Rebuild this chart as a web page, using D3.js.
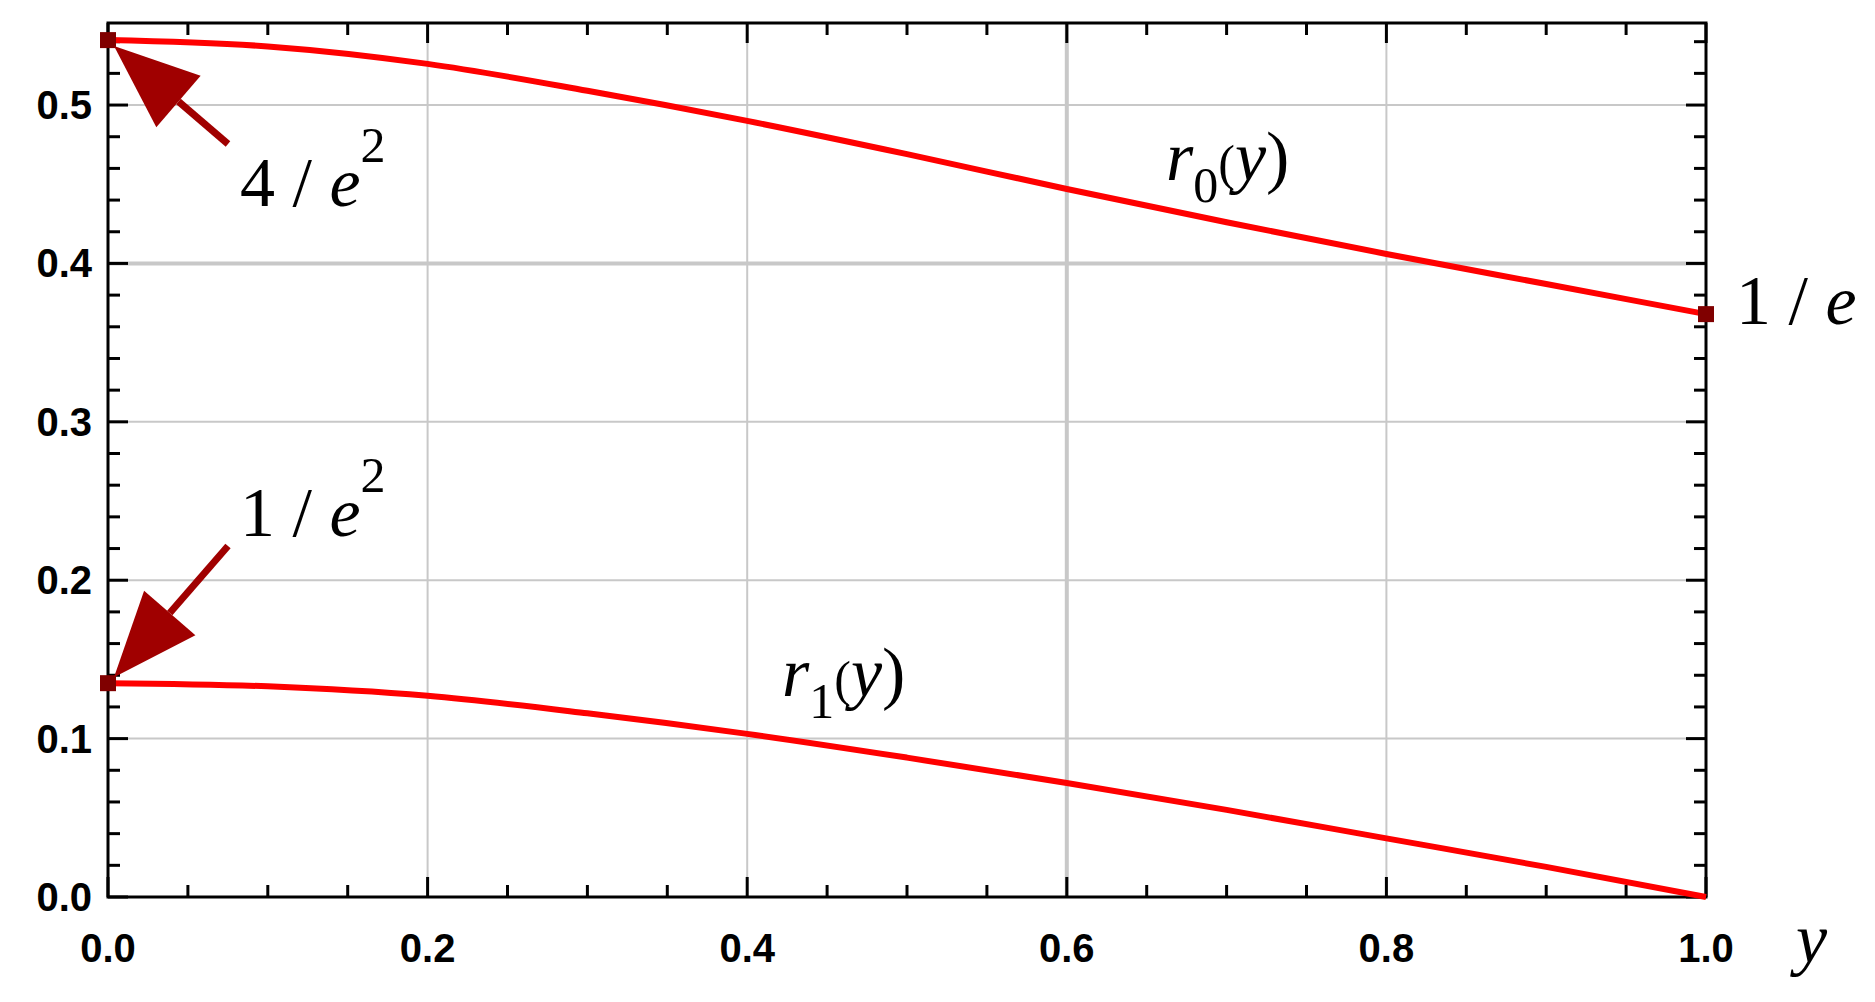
<!DOCTYPE html>
<html><head><meta charset="utf-8">
<script src="https://cdn.jsdelivr.net/npm/d3@7"></script>
<style>body{margin:0;background:#fff}</style></head>
<body><svg id="c" width="1875" height="1002"></svg>
<script>
const yVals = [0,0.1,0.2,0.3,0.4,0.5,0.6,0.7,0.8,0.9,1.0];
const r0 = [0.541,0.537,0.526,0.509,0.490,0.469,0.447,0.426,0.406,0.387,0.368];
const r1 = [0.135,0.133,0.127,0.116,0.103,0.088,0.072,0.055,0.037,0.019,0.0];
const xTicks = [0,0.2,0.4,0.6,0.8,1.0];
const yTicks = [0,0.1,0.2,0.3,0.4,0.5];

const svg = d3.select("#c");
const L=108,R=1706,T=23,B=897;
const x = d3.scaleLinear().domain([0,1]).range([L,R]);
const y = d3.scaleLinear().domain([0,0.5518]).range([B,T]);

svg.append("g").selectAll("line").data(xTicks.slice(1,-1)).join("line")
  .attr("x1",d=>x(d)).attr("x2",d=>x(d)).attr("y1",T).attr("y2",B)
  .attr("stroke","#c8c8c8").attr("stroke-width",d=>d===0.6?4:2);
svg.append("g").selectAll("line").data(yTicks.slice(1)).join("line")
  .attr("y1",d=>y(d)).attr("y2",d=>y(d)).attr("x1",L).attr("x2",R)
  .attr("stroke","#c8c8c8").attr("stroke-width",d=>d===0.4?4:2);

const xt = d3.range(0,1.0001,0.05), yt = d3.range(0,0.5501,0.02);
const isMajX = d=>Math.abs(d*5-Math.round(d*5))<1e-6;
const isMajY = d=>Math.abs(d*10-Math.round(d*10))<1e-6;
const tk = svg.append("g").attr("stroke","#000").attr("stroke-width",3);
xt.forEach(d=>{const l=isMajX(d)?20:12;
  tk.append("line").attr("x1",x(d)).attr("x2",x(d)).attr("y1",B).attr("y2",B-l);
  tk.append("line").attr("x1",x(d)).attr("x2",x(d)).attr("y1",T).attr("y2",T+l);});
yt.forEach(d=>{const l=isMajY(d)?20:12;
  tk.append("line").attr("y1",y(d)).attr("y2",y(d)).attr("x1",L).attr("x2",L+l);
  tk.append("line").attr("y1",y(d)).attr("y2",y(d)).attr("x1",R).attr("x2",R-l);});
svg.append("rect").attr("x",L).attr("y",T).attr("width",R-L).attr("height",B-T)
  .attr("fill","none").attr("stroke","#000").attr("stroke-width",3);

const lab = {"font-family":"Liberation Sans, Arial, sans-serif","font-weight":"bold","font-size":"40px"};
svg.append("g").selectAll("text").data(xTicks).join("text")
  .attr("x",d=>x(d)).attr("y",962).attr("text-anchor","middle").text(d=>d.toFixed(1))
  .each(function(){for(const k in lab) d3.select(this).attr(k,lab[k]);});
svg.append("g").selectAll("text").data(yTicks).join("text")
  .attr("x",92).attr("y",d=>y(d)+14).attr("text-anchor","end").text(d=>d.toFixed(1))
  .each(function(){for(const k in lab) d3.select(this).attr(k,lab[k]);});

const line = d3.line().x((d,i)=>x(yVals[i])).y(d=>y(d)).curve(d3.curveMonotoneX);
[r0,r1].forEach(s=>svg.append("path").attr("d",line(s)).attr("fill","none")
  .attr("stroke","#ff0000").attr("stroke-width",6));

[[0,r0[0]],[1,r0[10]],[0,r1[0]]].forEach(p=>svg.append("rect")
  .attr("x",x(p[0])-8).attr("y",y(p[1])-8).attr("width",16).attr("height",16).attr("fill","#800000"));

function arrow(x1,y1,x2,y2){
  const dx=x2-x1,dy=y2-y1,len=Math.hypot(dx,dy),ux=dx/len,uy=dy/len;
  const hl=85,hw=34,bx=x2-ux*hl,by=y2-uy*hl;
  svg.append("line").attr("x1",x1).attr("y1",y1).attr("x2",bx).attr("y2",by)
    .attr("stroke","#a00000").attr("stroke-width",7);
  svg.append("path").attr("d",`M${x2},${y2}L${bx-uy*hw},${by+ux*hw}L${bx+uy*hw},${by-ux*hw}Z`).attr("fill","#a00000");
}
arrow(228,144,x(0)+6,y(r0[0])+6);
arrow(228,546,x(0)+6,y(r1[0])-6);

const ann = svg.append("g").attr("font-family","Liberation Serif, Times New Roman, serif").attr("font-size","70px");
function mk(xp,yp,parts){const t=ann.append("text").attr("x",xp).attr("y",yp);
  parts.forEach(p=>{const s=t.append("tspan").text(p.t);
    if(p.i) s.attr("font-style","italic");
    if(p.dy) s.attr("dy",p.dy).attr("font-size","50px");});}
mk(240,206,[{t:"4 / "},{t:"e",i:1},{t:"2",dy:-44}]);
mk(1166,180,[{t:"r",i:1},{t:"0",dy:22},{t:"(",dy:-22},{t:"y",i:1},{t:")"}]);
mk(1736,324,[{t:"1 / "},{t:"e",i:1}]);
mk(240,536,[{t:"1 / "},{t:"e",i:1},{t:"2",dy:-44}]);
mk(782,696,[{t:"r",i:1},{t:"1",dy:22},{t:"(",dy:-22},{t:"y",i:1},{t:")"}]);
mk(1796,962,[{t:"y",i:1}]);
</script></body></html>
